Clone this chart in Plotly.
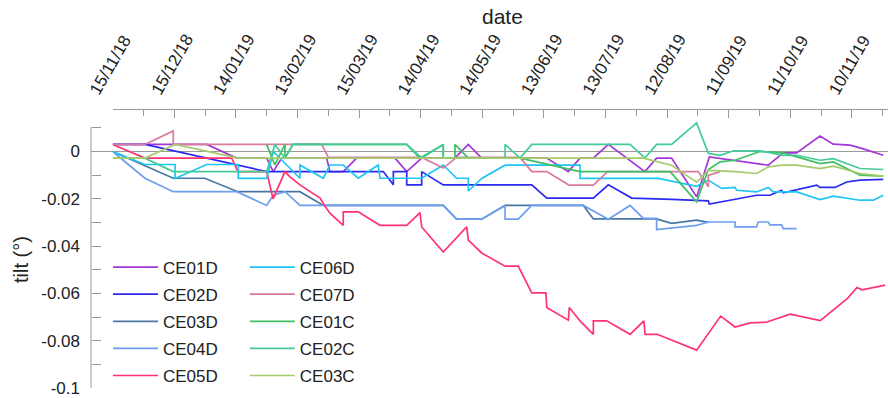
import pandas as pd
import plotly.graph_objects as go

BASE = pd.Timestamp("2018-11-15")

# ---- data: day offsets from 15/11/18 and tilt values (deg) ----
ce01d_days = [0, 45.8, 60.4, 75, 78.2, 82.3, 104.2, 105.8, 112.3, 118.8, 137.5, 143.2, 150.5, 166.6, 173.2,
              179.7, 211.4, 221.9, 227.6, 234.1, 241.4, 259.2, 264.9, 272.2, 284.4, 290.6, 319.3, 326.6, 333.1,
              344.5, 350.9, 359.1, 364.8, 375.3]
ce01d_vals = [0.003, 0.003, -0.0028, -0.0028, -0.0085, -0.0028, -0.0028, -0.0085, -0.0085, -0.0028, -0.0028,
              -0.0085, -0.0028, -0.0028, 0.003, -0.0028, -0.0028, -0.0085, -0.0028, -0.0028, 0.003, -0.0085,
              -0.0028, -0.0028, -0.0192, -0.0023, -0.0058, -0.0006, -0.0006, 0.0065, 0.0031, 0.0027, 0.0013,
              -0.0016]

ce02d_days = [0, 15.7, 75, 131.8, 136.7, 136.7, 143.2, 143.2, 150.5, 150.5, 161, 204.1, 211.4, 234.1, 241.4,
              252.8, 272.2, 290.1, 290.6, 313.6, 320.1, 325.8, 326.6, 342.9, 344.5, 351.8, 357.5, 364, 375.3]
ce02d_vals = [0.003, 0.003, -0.0085, -0.0085, -0.0141, -0.0085, -0.0085, -0.0141, -0.0141, -0.0085, -0.0141,
              -0.0141, -0.0197, -0.0197, -0.0141, -0.0197, -0.0202, -0.0209, -0.0222, -0.0185, -0.0185, -0.0164,
              -0.0175, -0.0142, -0.0152, -0.0152, -0.0129, -0.0121, -0.0118]

ce03d_days = [0, 29.5, 44.8, 61, 91.2, 102.6, 161, 167.5, 179.7, 191.1, 229.2, 234.1, 264.9, 272.2, 284.4, 290.1]
ce03d_vals = [0, -0.0113, -0.0113, -0.017, -0.017, -0.0228, -0.0228, -0.0286, -0.0286, -0.0228, -0.0228,
              -0.0285, -0.0285, -0.0304, -0.029, -0.0300]

ce04d_days = [0, 15.7, 29.5, 60.4, 75, 78.2, 84, 91.2, 161, 167.5, 179.7, 191.1, 191.1, 197.5, 204.1, 229.2,
              241.4, 252, 258.4, 264.9, 264.9, 284.4, 290.1, 303.1, 303.1, 313.6, 314.4, 319.3, 320.1, 325.8,
              326.6, 333.1]
ce04d_vals = [0, -0.0113, -0.017, -0.017, -0.0228, -0.0185, -0.017, -0.0228, -0.0228, -0.0286, -0.0286,
              -0.0228, -0.0286, -0.0286, -0.0228, -0.0228, -0.0286, -0.0228, -0.0283, -0.0283, -0.033, -0.0312,
              -0.0298, -0.0298, -0.0319, -0.0319, -0.0298, -0.0298, -0.031, -0.031, -0.0326, -0.0326]

ce05d_days = [0, 15.7, 58, 61, 75, 78.1, 83.9, 86.2, 91.2, 101, 103.4, 105.8, 112.3, 112.3, 119.6, 130.2,
              143.2, 149.7, 150.5, 161, 172.4, 173.2, 179.7, 191.1, 197.5, 204.1, 211, 211.4, 221.9, 222.4,
              225, 227.6, 234.1, 234.1, 240.6, 252, 258.7, 259.3, 265.2, 284.4, 296.1, 303.1, 310.4, 318.3,
              329.9, 344.6, 358, 362.5, 365, 376.2]
ce05d_vals = [0.003, -0.0028, -0.0028, -0.0085, -0.0085, -0.02, -0.0085, -0.0106, -0.0141, -0.0197, -0.0231,
              -0.0261, -0.0312, -0.0255, -0.0255, -0.0312, -0.0312, -0.0258, -0.0319, -0.0425, -0.0319, -0.0375,
              -0.0429, -0.0485, -0.0485, -0.0598, -0.0598, -0.066, -0.0713, -0.066, -0.0688, -0.0716, -0.0773,
              -0.0716, -0.0716, -0.0773, -0.0716, -0.0773, -0.0773, -0.084, -0.0696, -0.0742, -0.0725, -0.0722,
              -0.0688, -0.0715, -0.062, -0.0575, -0.0585, -0.0565]

ce06d_days = [0, 15.7, 30.4, 30.4, 45.8, 61.2, 61.2, 75, 78.2, 91.2, 91.2, 102.6, 105.8, 112.3, 119.6, 129.3,
              130.2, 150.5, 161, 167.5, 173.2, 173.2, 179.7, 191.1, 227.6, 227.6, 265.7, 284.4, 290.1, 296.6,
              303.1, 303.9, 313.6, 319.3, 321.7, 333.1, 344.5, 351, 364, 370.5, 375.3]
ce06d_vals = [0, -0.0055, -0.0055, -0.0114, -0.0055, -0.0055, -0.0114, -0.0114, 0, -0.0113, -0.0057, -0.0113,
              -0.0057, -0.0057, -0.0113, -0.0057, -0.0113, -0.0113, -0.0057, -0.0113, -0.0113, -0.0167, -0.0114,
              -0.0058, -0.0058, -0.0114, -0.0114, -0.0147, -0.0121, -0.0156, -0.0152, -0.0164, -0.0171, -0.0152,
              -0.0171, -0.0171, -0.0203, -0.0189, -0.0206, -0.0206, -0.0185]

ce07d_days = [0, 15.7, 29.5, 29.5, 101.8, 105, 150.5, 161, 167.5, 198.4, 204.1, 211.4, 222.2, 234.1, 241,
              285.2, 290.1, 290.1, 295.8]
ce07d_vals = [0.003, 0.003, 0.0087, 0.003, 0.003, -0.0025, -0.0025, -0.007, -0.0025, -0.0025, -0.0085,
              -0.0085, -0.0142, -0.0142, -0.0085, -0.0085, -0.0149, -0.0101, -0.0085]

ce01c_days = [75, 79, 83.9, 83.9, 87.8, 143.2, 149.6, 161, 161, 166.7, 166.7, 173.2, 198.4, 227.6, 271.5,
              284.4, 290.1, 295.8, 303.1, 315.2, 326.6, 333.1, 344.5, 351, 364, 375.3]
ce01c_vals = [0.003, -0.0057, 0.003, -0.0028, 0.003, 0.003, -0.0028, 0.003, -0.0028, -0.0028, 0.003, -0.0028,
              -0.0028, -0.0085, -0.0085, -0.0213, -0.0076, -0.0044, -0.0037, 0, -0.0006, -0.0023, -0.0051,
              -0.0044, -0.01, -0.0104]

ce02c_days = [0, 15.7, 29.5, 75, 79, 83.9, 87.8, 143.2, 150.5, 161, 161, 191.1, 191.1, 198.4, 204.1, 252,
              259.2, 264.9, 272.2, 284.4, 290.1, 295.8, 302.4, 315.2, 326.6, 333.1, 344.5, 351, 364, 375.3]
ce02c_vals = [-0.0028, -0.0028, -0.0085, -0.0085, 0.003, -0.0028, 0.003, 0.003, -0.0028, 0.003, -0.0028,
              -0.0028, 0.003, -0.0028, 0.003, 0.003, -0.0028, 0.003, 0.003, 0.0121, -0.0008, -0.0016, 0.0003,
              0.0003, -0.0016, -0.0016, -0.0037, -0.003, -0.0072, -0.0076]

ce03c_days = [0, 15.7, 30.4, 61.2, 258.4, 272.2, 284.4, 290.1, 303.1, 313.6, 319.3, 325.8, 333.1, 344.5, 351,
              364, 375.3]
ce03c_vals = [-0.0028, -0.0028, 0.003, -0.0028, -0.0028, -0.0058, -0.013, -0.008, -0.0085, -0.0093, -0.0065,
              -0.0058, -0.0058, -0.0072, -0.0062, -0.0093, -0.0104]

names = ["CE01D", "CE02D", "CE03D", "CE04D", "CE05D", "CE06D", "CE07D", "CE01C", "CE02C", "CE03C"]
series_days = [ce01d_days, ce02d_days, ce03d_days, ce04d_days, ce05d_days, ce06d_days, ce07d_days,
               ce01c_days, ce02c_days, ce03c_days]
series_vals = [ce01d_vals, ce02d_vals, ce03d_vals, ce04d_vals, ce05d_vals, ce06d_vals, ce07d_vals,
               ce01c_vals, ce02c_vals, ce03c_vals]
colors = ["#a336d6", "#2a2af2", "#4a76a2", "#6e9ef0", "#ff3370", "#1ec6f5", "#d97a9e", "#3cc062",
          "#44cc98", "#a5cc6c"]

ytick_vals = [0, -0.02, -0.04, -0.06, -0.08, -0.1]
ytick_text = ["0", "-0.02", "-0.04", "-0.06", "-0.08", "-0.1"]

FONT = "Liberation Sans, Arial, sans-serif"
TXT = "#222222"
AX = "#9a9a9a"

fig = go.Figure()
for i, (n, d, v, c) in enumerate(zip(names, series_days, series_vals, colors)):
    x = BASE + pd.to_timedelta(d, unit="D")
    fig.add_trace(go.Scatter(
        x=x, y=v, mode="lines", name=n, line=dict(color=c, width=1.7),
        legend="legend" if i < 5 else "legend2", legendgroup=n,
    ))

x_end = BASE + pd.Timedelta(days=377.6)

fig.update_layout(
    width=888, height=398,
    margin=dict(l=91, r=0, t=110, b=10),
    paper_bgcolor="white", plot_bgcolor="white",
    font=dict(family=FONT, size=17, color=TXT),
    xaxis=dict(
        domain=[0.0272, 1], side="top", range=[BASE, x_end], type="date",
        tick0=BASE, dtick=30 * 86400000, tickformat="%d/%m/%y", tickangle=-60,
        ticks="inside", ticklen=8, tickcolor=AX, showline=True, linecolor=AX, linewidth=1,
        showgrid=False, zeroline=False, tickfont=dict(size=17, color=TXT),
        ticklabelshift=-21, ticklabeloverflow="allow", ticklabelstandoff=2,
        minor=dict(dtick=15 * 86400000, tick0=BASE, ticks="inside", ticklen=6, tickcolor=AX, showgrid=False),
    ),
    yaxis=dict(
        anchor="free", position=0, range=[-0.1, 0.01755],
        tickvals=ytick_vals, ticktext=ytick_text,
        ticks="inside", ticklen=9, tickcolor=AX, showline=False, showgrid=False, zeroline=False,
        tickfont=dict(size=17, color=TXT), ticklabelstandoff=11,
        minor=dict(dtick=0.01, tick0=0, ticks="inside", ticklen=9, tickcolor=AX, showgrid=False),
    ),
    legend=dict(x=0.0213, y=0.498, xanchor="left", yanchor="top", bgcolor="rgba(0,0,0,0)",
                font=dict(size=17, color=TXT), itemwidth=45, tracegroupgap=2),
    legend2=dict(x=0.193, y=0.498, xanchor="left", yanchor="top", bgcolor="rgba(0,0,0,0)",
                 font=dict(size=17, color=TXT), itemwidth=45, tracegroupgap=2),
    shapes=[
        dict(type="line", xref="paper", yref="y", x0=0, x1=1, y0=0, y1=0,
             line=dict(color=AX, width=1), layer="below"),
        dict(type="line", xref="paper", yref="y", x0=0, x1=0, y0=-0.1, y1=0.0105,
             line=dict(color=AX, width=1)),
    ],
    annotations=[
        dict(text="date", xref="paper", yref="paper", x=(502 - 91) / 797, y=(388 - 16) / 278,
             showarrow=False, font=dict(size=21, color=TXT), xanchor="center", yanchor="middle"),
        dict(text="tilt (°)", xref="paper", yref="paper", x=(21 - 91) / 797, y=(388 - 260) / 278,
             showarrow=False, font=dict(size=20, color=TXT), textangle=-90,
             xanchor="center", yanchor="middle"),
    ],
)

fig.write_html("out.html")
